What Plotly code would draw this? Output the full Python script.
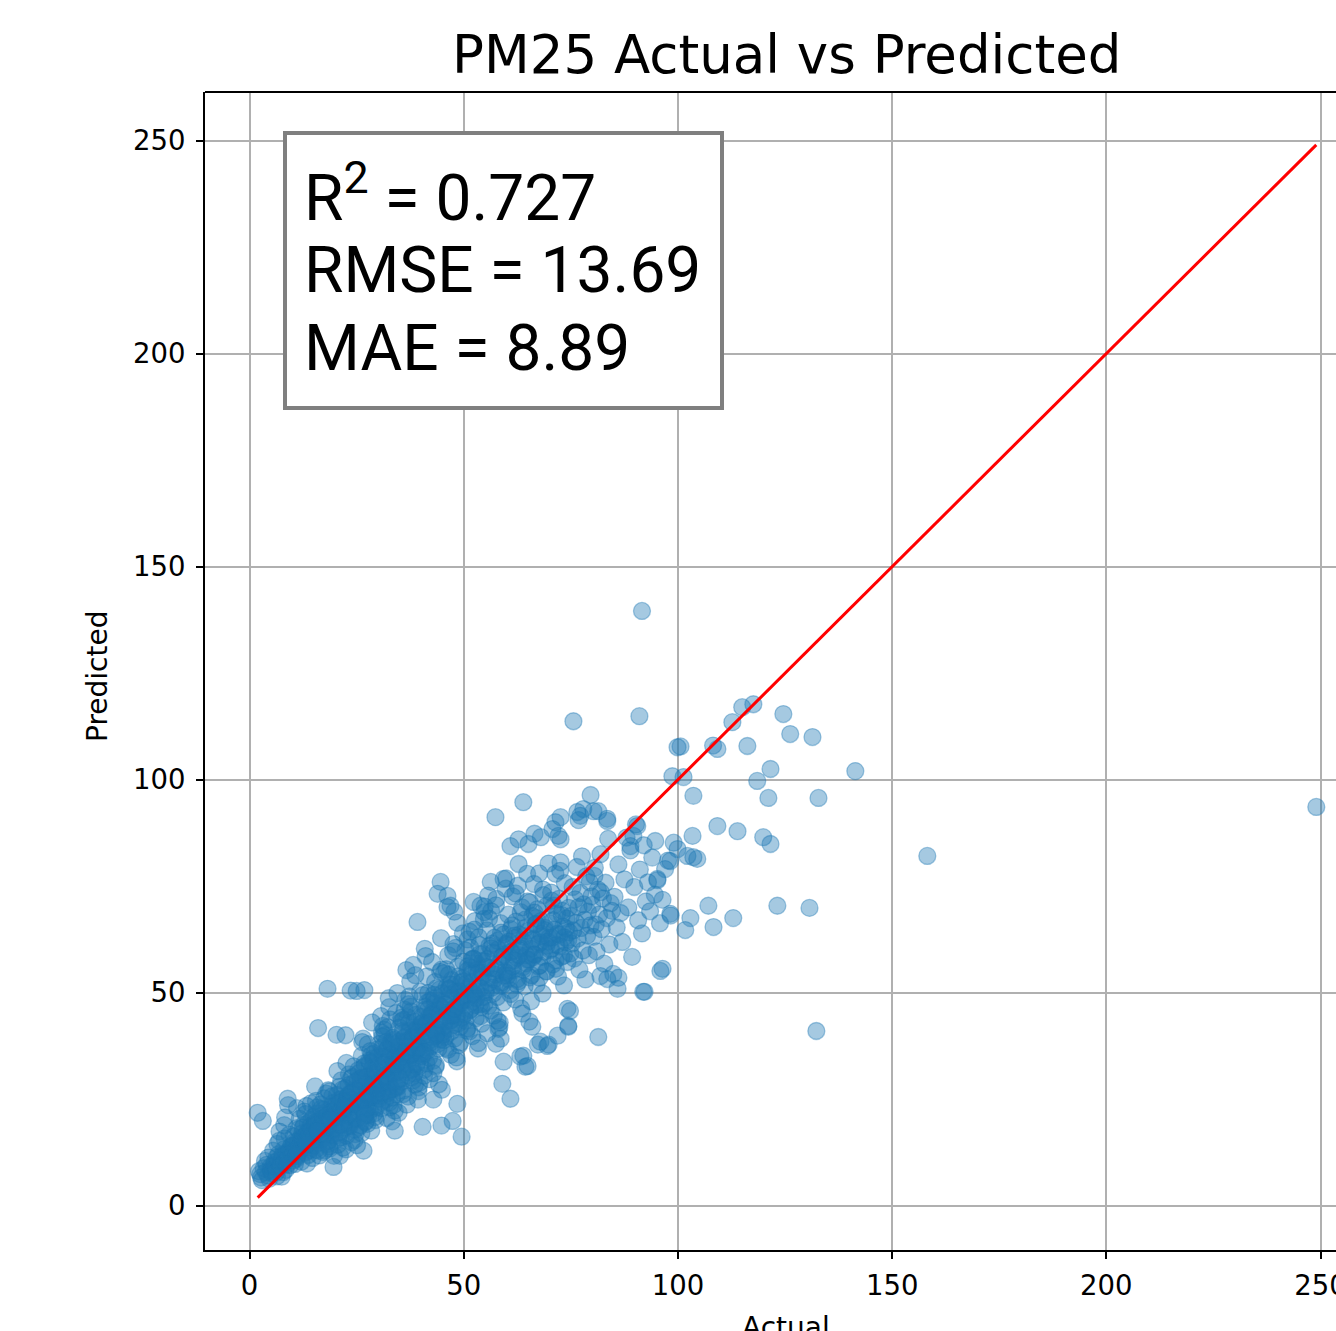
import plotly.graph_objects as go

# ---------------- data (per actual-value bin) ----------------
actual_00_05 = [1.9, 2.5, 3.1, 3.3, 2.7, 4.0, 4.6, 3.8, 4.9, 2.2, 3.6, 4.3, 5.0, 2.9, 4.4]
pred_00_05 = [21.8, 7.4, 19.9, 8.8, 6.6, 9.6, 6.3, 7.9, 8.4, 8.1, 10.5, 7.1, 9.2, 6.0, 11.3]

actual_05_10 = [5.3, 5.8, 6.1, 6.5, 6.8, 7.0, 7.2, 7.5, 7.7, 8.0, 8.2, 8.4, 8.6, 8.9, 9.1,
                9.3, 9.5, 9.8, 5.5, 6.3, 7.4, 8.1, 9.0, 9.6, 6.9, 7.9, 8.7, 5.9, 9.9, 8.3]
pred_05_10 = [7.6, 10.2, 8.9, 14.5, 12.1, 17.4, 9.8, 6.8, 11.5, 13.2, 15.8, 8.4, 10.9, 25.1, 12.6,
              16.7, 9.5, 14.1, 12.9, 11.3, 10.6, 18.9, 23.6, 13.8, 15.2, 7.9, 12.0, 9.1, 11.9, 20.7]

actual_10_15 = [10.1, 10.3, 10.6, 10.8, 11.0, 11.2, 11.5, 11.7, 11.9, 12.1, 12.3, 12.5, 12.8, 13.0, 13.2,
                13.4, 13.6, 13.9, 14.1, 14.3, 14.5, 14.7, 14.9, 10.4, 10.9, 11.4, 11.8, 12.2, 12.7, 13.1,
                13.5, 13.8, 14.2, 14.6, 10.2, 11.1, 12.0, 12.9, 13.7, 14.4, 14.8, 11.6, 12.4, 13.3, 14.0]
pred_10_15 = [12.1, 16.3, 9.8, 14.0, 18.2, 11.6, 13.9, 20.4, 15.1, 10.3, 17.0, 14.6, 22.1, 12.4, 16.8,
              9.9, 19.3, 15.5, 13.1, 24.0, 17.7, 11.2, 20.8, 14.9, 11.0, 17.9, 13.3, 15.6, 19.0, 21.5,
              12.8, 16.2, 18.6, 14.2, 10.6, 22.9, 16.0, 13.7, 11.9, 20.1, 15.0, 12.9, 18.3, 23.4, 17.3]

actual_15_20 = [15.0, 15.2, 15.4, 15.6, 15.8, 16.0, 16.2, 16.4, 16.6, 16.8, 17.0, 17.2, 17.4, 17.6, 17.8,
                18.0, 18.2, 18.4, 18.6, 18.8, 19.0, 19.2, 19.4, 19.6, 19.8, 15.1, 15.5, 15.9, 16.3, 16.7,
                17.1, 17.5, 17.9, 18.3, 18.7, 19.1, 19.5, 19.9, 15.3, 16.1, 16.9, 17.7, 18.5, 19.3, 15.4,
                16.5, 17.3, 18.1, 18.9, 19.7, 15.7, 16.6, 17.6, 18.6, 19.6]
pred_15_20 = [15.4, 18.9, 13.1, 21.6, 17.2, 41.7, 14.8, 20.3, 23.8, 16.1, 19.5, 12.6, 25.2, 17.9, 22.0,
              15.0, 18.4, 27.1, 13.9, 20.9, 16.6, 23.3, 19.0, 9.1, 21.4, 14.1, 24.6, 18.0, 11.8, 22.7,
              15.8, 20.1, 26.3, 17.5, 13.4, 19.8, 24.1, 16.4, 28.0, 12.9, 21.1, 18.7, 15.3, 25.7, 19.6,
              17.0, 22.5, 14.5, 20.6, 11.7, 23.0, 16.9, 13.0, 26.8, 18.2]

actual_20_25 = [20.0, 20.2, 20.4, 20.6, 20.8, 21.0, 21.2, 21.4, 21.6, 21.8, 22.0, 22.2, 22.4, 22.6, 22.8,
                23.0, 23.2, 23.4, 23.6, 23.8, 24.0, 24.2, 24.4, 24.6, 24.8, 20.1, 20.5, 20.9, 21.3, 21.7,
                22.1, 22.5, 22.9, 23.3, 23.7, 24.1, 24.5, 24.9, 20.3, 21.1, 21.9, 22.7, 23.5, 24.3, 20.7,
                21.5, 22.3, 23.1, 23.9, 24.7, 20.0, 21.0, 22.0, 23.0, 24.0, 21.2, 22.4, 23.6, 24.6, 20.6,
                18.2, 23.6, 25.0, 26.8, 22.6]
pred_20_25 = [22.4, 18.1, 26.0, 15.7, 20.8, 24.9, 17.3, 29.4, 21.5, 13.6, 23.7, 19.2, 27.6, 16.4, 25.3,
              21.0, 30.8, 18.6, 23.1, 14.9, 26.7, 20.2, 28.9, 17.8, 24.4, 19.9, 31.6, 22.8, 16.0, 27.3,
              20.5, 13.2, 25.8, 18.9, 29.9, 22.1, 15.4, 26.2, 40.1, 11.7, 21.8, 24.6, 19.4, 32.7, 17.1,
              25.0, 22.9, 28.3, 20.7, 16.8, 23.4, 27.9, 18.3, 21.3, 30.2, 19.0, 40.0, 26.5, 23.9, 14.3,
              50.9, 50.5, 50.4, 50.6, 33.5]

actual_25_30 = [25.0, 25.2, 25.4, 25.6, 25.8, 26.0, 26.2, 26.4, 26.6, 26.8, 27.0, 27.2, 27.4, 27.6, 27.8,
                28.0, 28.2, 28.4, 28.6, 28.8, 29.0, 29.2, 29.4, 29.6, 29.8, 25.1, 25.5, 25.9, 26.3, 26.7,
                27.1, 27.5, 27.9, 28.3, 28.7, 29.1, 29.5, 29.9, 25.3, 26.1, 26.9, 27.7, 28.5, 29.3, 25.7,
                26.5, 27.3, 28.1, 28.9, 29.7, 25.5, 26.5, 27.5, 28.5, 29.5, 25.9, 26.9, 27.9, 28.9, 29.9,
                26.2, 27.2, 28.2, 29.2, 26.6, 27.6, 28.6, 29.6, 27.5, 28.0]
pred_25_30 = [27.1, 20.4, 31.8, 24.6, 18.9, 29.3, 35.2, 22.7, 26.0, 33.4, 19.6, 28.8, 24.1, 37.9, 21.3,
              30.5, 25.7, 17.6, 32.2, 27.9, 23.3, 35.8, 20.1, 29.0, 26.6, 14.2, 31.1, 24.9, 38.4, 22.0,
              28.4, 19.2, 34.0, 25.5, 30.9, 21.7, 27.4, 36.7, 23.8, 17.0, 32.8, 26.3, 29.6, 20.8, 24.3,
              39.2, 28.1, 22.4, 33.9, 25.9, 18.4, 30.1, 26.8, 35.5, 23.0, 29.8, 21.1, 27.0, 34.6, 31.4,
              24.7, 19.9, 36.3, 28.6, 12.9, 26.4, 43.0, 30.7, 22.9, 25.2]

actual_30_35 = [30.0, 30.2, 30.4, 30.6, 30.8, 31.0, 31.2, 31.4, 31.6, 31.8, 32.0, 32.2, 32.4, 32.6, 32.8,
                33.0, 33.2, 33.4, 33.6, 33.8, 34.0, 34.2, 34.4, 34.6, 34.8, 30.1, 30.5, 30.9, 31.3, 31.7,
                32.1, 32.5, 32.9, 33.3, 33.7, 34.1, 34.5, 34.9, 30.3, 31.1, 31.9, 32.7, 33.5, 34.3, 30.7,
                31.5, 32.3, 33.1, 33.9, 34.7, 30.5, 31.5, 32.5, 33.5, 34.5, 30.9, 31.9, 32.9, 33.9, 34.9,
                31.2, 32.2, 33.2, 34.2, 31.6, 32.6, 33.6, 34.6, 31.0, 34.0]
pred_30_35 = [32.4, 25.1, 38.0, 28.7, 22.9, 35.6, 30.2, 41.3, 26.8, 33.9, 20.6, 36.8, 29.5, 24.2, 43.7,
              31.7, 27.3, 39.4, 23.6, 34.7, 30.9, 45.2, 26.1, 37.3, 21.8, 32.9, 28.4, 40.6, 35.0, 24.8,
              29.1, 48.7, 33.2, 19.8, 38.9, 27.6, 31.4, 36.1, 25.7, 42.2, 30.3, 23.1, 35.9, 28.0, 44.5,
              32.0, 26.4, 37.8, 22.3, 34.3, 29.7, 40.0, 27.0, 33.6, 49.9, 24.5, 38.4, 31.0, 17.6, 36.5,
              28.9, 41.9, 25.4, 34.9, 30.6, 46.6, 33.1, 27.8, 39.7, 32.7]

actual_35_40 = [35.0, 35.2, 35.4, 35.6, 35.8, 36.0, 36.2, 36.4, 36.6, 36.8, 37.0, 37.2, 37.4, 37.6, 37.8,
                38.0, 38.2, 38.4, 38.6, 38.8, 39.0, 39.2, 39.4, 39.6, 39.8, 35.1, 35.5, 35.9, 36.3, 36.7,
                37.1, 37.5, 37.9, 38.3, 38.7, 39.1, 39.5, 39.9, 35.3, 36.1, 36.9, 37.7, 38.5, 39.3, 35.7,
                36.5, 37.3, 38.1, 38.9, 39.7, 35.5, 36.5, 37.5, 38.5, 39.5, 35.9, 36.9, 37.9, 38.9, 39.9,
                36.2, 37.2, 38.2, 39.2, 36.6]
pred_35_40 = [37.5, 29.8, 44.1, 33.2, 27.0, 40.6, 35.9, 48.3, 31.4, 38.8, 25.6, 42.9, 34.5, 46.7, 30.1,
              39.7, 56.5, 36.3, 28.4, 44.8, 32.7, 41.5, 26.9, 37.9, 50.2, 34.0, 29.1, 43.6, 38.4, 23.7,
              47.3, 35.2, 31.9, 40.1, 54.1, 36.8, 27.8, 42.2, 33.7, 39.3, 30.6, 45.6, 37.0, 24.9, 41.0,
              34.8, 49.1, 32.3, 38.0, 28.9, 43.3, 36.0, 52.6, 31.0, 39.9, 26.2, 44.2, 35.5, 40.8, 33.0,
              46.0, 37.3, 29.4, 41.8, 55.3]

actual_40_45 = [40.0, 40.2, 40.4, 40.6, 40.8, 41.0, 41.2, 41.4, 41.6, 41.8, 42.0, 42.2, 42.4, 42.6, 42.8,
                43.0, 43.2, 43.4, 43.6, 43.8, 44.0, 44.2, 44.4, 44.6, 44.8, 40.1, 40.5, 40.9, 41.3, 41.7,
                42.1, 42.5, 42.9, 43.3, 43.7, 44.1, 44.5, 44.9, 40.3, 41.1, 41.9, 42.7, 43.5, 44.3, 40.7,
                41.5, 42.3, 43.1, 43.9, 44.7, 40.5, 41.5, 42.5, 43.5, 44.5, 40.4, 42.9, 44.8, 44.6, 43.9]
pred_40_45 = [42.6, 35.1, 49.4, 38.7, 31.9, 46.0, 40.9, 53.8, 36.4, 44.3, 29.7, 48.1, 39.6, 57.2, 34.0,
              45.1, 41.8, 32.6, 51.0, 37.9, 43.7, 28.5, 47.0, 39.0, 55.4, 35.8, 42.1, 60.3, 33.4, 49.9,
              38.2, 44.9, 31.1, 52.5, 40.4, 36.9, 46.8, 27.2, 42.9, 58.6, 34.7, 45.5, 39.8, 50.7, 30.5,
              43.0, 37.4, 48.6, 41.3, 62.8, 35.6, 47.7, 44.0, 33.0, 54.9, 18.5, 24.9, 18.8, 76.0, 73.2]

actual_45_50 = [45.0, 45.2, 45.4, 45.6, 45.8, 46.0, 46.2, 46.4, 46.6, 46.8, 47.0, 47.2, 47.4, 47.6, 47.8,
                48.0, 48.2, 48.4, 48.6, 48.8, 49.0, 49.2, 49.4, 49.6, 49.8, 45.1, 45.5, 45.9, 46.3, 46.7,
                47.1, 47.5, 47.9, 48.3, 48.7, 49.1, 49.5, 49.9, 45.3, 46.1, 46.9, 47.7, 48.5, 49.3, 45.7,
                46.5, 47.3, 48.1, 48.9, 49.7, 47.4, 48.5, 49.5, 46.2, 47.8]
pred_45_50 = [47.8, 40.1, 54.6, 43.2, 37.0, 51.3, 45.9, 58.8, 41.5, 49.6, 35.4, 53.0, 44.7, 61.4, 39.2,
              50.2, 46.8, 33.9, 56.1, 42.8, 48.9, 38.3, 52.4, 44.1, 63.9, 40.7, 47.2, 55.5, 36.6, 50.8,
              43.5, 59.7, 46.1, 34.8, 53.8, 41.9, 49.0, 57.3, 38.9, 45.3, 51.9, 42.4, 66.4, 47.5, 39.6,
              54.2, 44.6, 60.5, 37.7, 48.3, 19.9, 23.9, 16.2, 70.1, 69.0]

actual_50_55 = [50.0, 50.2, 50.4, 50.6, 50.8, 51.0, 51.2, 51.4, 51.6, 51.8, 52.0, 52.2, 52.4, 52.6, 52.8,
                53.0, 53.2, 53.4, 53.6, 53.8, 54.0, 54.2, 54.4, 54.6, 54.8, 50.1, 50.5, 50.9, 51.3, 51.7,
                52.1, 52.5, 52.9, 53.3, 53.7, 54.1, 54.5, 54.9, 50.3, 51.1, 51.9, 52.7, 53.5, 54.3, 50.7,
                51.5, 52.3, 53.1, 53.9, 54.7]
pred_50_55 = [52.7, 45.0, 59.9, 48.4, 41.6, 56.2, 50.8, 64.3, 46.1, 54.5, 39.8, 58.0, 49.5, 66.8, 44.0,
              55.3, 51.7, 38.2, 61.2, 47.3, 53.6, 42.7, 57.4, 49.0, 68.9, 45.5, 52.1, 62.5, 40.9, 55.9,
              48.0, 64.8, 50.3, 36.9, 59.0, 46.6, 53.9, 70.2, 43.4, 51.2, 57.8, 47.1, 63.0, 54.7, 41.2,
              60.6, 49.9, 56.8, 44.5, 67.3]

actual_55_60 = [55.0, 55.2, 55.4, 55.6, 55.8, 56.0, 56.2, 56.4, 56.6, 56.8, 57.0, 57.2, 57.4, 57.6, 57.8,
                58.0, 58.2, 58.4, 58.6, 58.8, 59.0, 59.2, 59.4, 59.6, 59.8, 55.1, 55.5, 55.9, 56.3, 56.7,
                57.1, 57.5, 57.9, 58.3, 58.7, 59.1, 59.5, 59.9, 57.4, 58.1, 58.6, 57.9, 59.0, 56.3, 55.7]
pred_55_60 = [57.3, 50.1, 64.6, 53.5, 46.9, 61.0, 55.8, 69.1, 51.2, 59.4, 44.6, 62.9, 54.2, 72.0, 49.0,
              60.2, 56.7, 43.0, 66.3, 52.4, 58.5, 47.7, 63.7, 54.9, 74.4, 50.6, 57.9, 67.4, 45.8, 61.5,
              53.1, 70.5, 55.3, 41.9, 64.1, 51.8, 59.0, 76.8, 91.2, 41.5, 39.2, 43.4, 28.6, 76.0, 72.8]

actual_60_65 = [60.0, 60.2, 60.4, 60.6, 60.8, 61.0, 61.2, 61.4, 61.6, 61.8, 62.0, 62.2, 62.4, 62.6, 62.8,
                63.0, 63.2, 63.4, 63.6, 63.8, 64.0, 64.2, 64.4, 64.6, 64.8, 60.1, 60.5, 60.9, 61.3, 61.7,
                62.1, 62.5, 62.9, 63.3, 63.7, 64.1, 64.5, 64.9, 63.9, 64.4]
pred_60_65 = [61.2, 54.0, 68.3, 57.1, 50.6, 64.9, 59.5, 72.6, 55.3, 62.8, 48.4, 66.7, 58.2, 75.1, 52.7,
              63.6, 60.4, 46.3, 70.0, 56.0, 61.9, 51.5, 67.2, 58.8, 77.9, 54.6, 62.0, 49.7, 65.8, 57.6,
              73.3, 53.2, 60.0, 68.9, 45.1, 63.1, 56.9, 71.4, 94.7, 32.6]

actual_65_70 = [65.0, 65.2, 65.4, 65.6, 65.8, 66.0, 66.2, 66.4, 66.6, 66.8, 67.0, 67.2, 67.4, 67.6, 67.8,
                68.0, 68.2, 68.4, 68.6, 68.8, 69.0, 69.2, 69.4, 69.6, 69.8, 65.3, 66.1, 66.9, 67.7, 68.5,
                69.3, 65.7, 66.5, 67.3, 68.1]
pred_65_70 = [64.5, 57.8, 71.2, 60.3, 54.1, 68.0, 62.6, 75.5, 58.9, 66.1, 51.9, 69.6, 61.4, 78.0, 56.4,
              66.8, 63.3, 49.8, 72.9, 59.6, 65.2, 55.0, 70.4, 62.0, 80.3, 43.2, 58.3, 67.5, 53.5, 74.2,
              61.0, 48.0, 68.8, 37.8, 63.8]

actual_70_75 = [70.0, 70.2, 70.4, 70.6, 70.8, 71.0, 71.2, 71.4, 71.6, 71.8, 72.0, 72.2, 72.4, 72.6, 72.8,
                73.0, 73.2, 73.4, 73.6, 73.8, 74.0, 74.2, 74.4, 74.6, 74.8, 70.5, 71.5, 72.5, 73.5, 74.5]
pred_70_75 = [66.3, 60.0, 73.5, 62.9, 56.6, 70.4, 64.8, 77.9, 61.2, 68.5, 53.8, 72.0, 63.6, 80.6, 58.4,
              69.2, 65.5, 51.7, 75.7, 61.8, 67.4, 57.2, 42.0, 64.2, 45.7, 71.6, 55.6, 78.6, 63.0, 69.9]

actual_75_80 = [75.0, 75.2, 75.4, 75.6, 75.8, 76.0, 76.2, 76.4, 76.6, 76.8, 77.0, 77.2, 77.4, 77.6, 77.8,
                78.0, 78.2, 78.4, 78.6, 78.8, 79.0, 79.2, 79.4, 79.6, 79.8]
pred_75_80 = [68.0, 61.5, 74.8, 64.6, 58.0, 71.9, 66.4, 79.5, 62.7, 70.1, 55.4, 73.4, 65.2, 82.0, 59.9,
              70.7, 67.1, 53.1, 77.3, 63.4, 69.0, 58.8, 75.9, 65.8, 72.6]

actual_80_85 = [80.0, 80.3, 80.5, 80.8, 81.0, 81.3, 81.6, 81.9, 82.2, 82.5, 82.8, 83.1, 83.4, 83.7, 84.0,
                84.3, 84.6, 84.9, 80.6, 82.0]
pred_80_85 = [70.6, 63.1, 77.4, 66.0, 59.7, 74.2, 68.3, 82.5, 64.9, 72.1, 56.8, 75.8, 67.5, 86.1, 61.3,
              71.0, 69.2, 54.4, 79.3, 73.6]

actual_85_100 = [85.2, 85.7, 86.1, 86.6, 87.0, 87.5, 88.0, 88.4, 88.9, 89.3, 89.8, 90.2, 90.7, 91.1, 91.6,
                 92.0, 92.5, 93.0, 93.5, 94.0, 94.6, 95.2, 95.8, 96.4, 97.0, 97.7, 98.3, 99.0, 86.1, 92.2]
pred_85_100 = [72.5, 65.3, 80.1, 68.7, 61.9, 76.6, 86.4, 70.0, 83.4, 58.4, 74.8, 89.5, 67.0, 78.9, 63.9,
               84.6, 71.4, 75.9, 69.1, 81.7, 73.0, 76.4, 66.3, 71.8, 79.0, 81.0, 68.1, 85.2, 53.5, 50.2]

# extra points in the dense core of the cloud
actual_core_a = [5.2, 5.7, 6.2, 6.7, 7.1, 7.6, 8.1, 8.5, 9.0, 9.4, 9.9, 10.3, 10.8, 11.3, 11.7, 12.2, 12.6,
                 13.1, 13.6, 14.0, 14.5, 15.0, 15.4, 15.9, 16.3, 16.8, 17.3, 17.7, 18.2, 18.6, 19.1, 19.6,
                 20.0, 20.5, 20.9, 21.4, 21.8, 22.3, 22.8, 23.2, 23.7, 24.1, 24.6, 6.4, 8.8, 11.0, 13.4,
                 16.0, 18.9, 22.0]
pred_core_a = [8.1, 9.5, 7.8, 10.6, 9.2, 11.8, 10.0, 12.3, 11.1, 13.0, 12.4, 14.1, 13.0, 15.2, 13.8, 14.9,
               16.0, 15.1, 17.2, 16.4, 18.0, 17.1, 18.9, 17.8, 19.7, 19.0, 20.6, 19.4, 21.2, 20.3, 22.1,
               21.0, 22.8, 21.7, 23.9, 22.5, 24.6, 23.0, 25.4, 24.1, 26.2, 24.8, 27.0, 6.9, 9.7, 11.9,
               14.6, 17.5, 20.1, 23.4]

actual_core_b = [25.3, 25.7, 26.1, 26.5, 26.9, 27.3, 27.7, 28.1, 28.5, 28.9, 29.3, 29.7, 30.1, 30.5, 30.9,
                 31.3, 31.7, 32.1, 32.5, 32.9, 33.3, 33.7, 34.1, 34.5, 34.9, 35.3, 35.7, 36.1, 36.5, 36.9,
                 37.3, 37.7, 38.1, 38.5, 38.9, 39.3, 39.7, 40.1, 40.5, 40.9, 41.3, 41.7, 42.1, 42.5, 42.9,
                 43.3, 43.7, 44.1, 44.5, 44.9, 45.3, 45.7, 46.1, 46.5, 46.9, 47.3, 47.7, 48.1, 48.5, 48.9,
                 49.3, 49.7, 27.0, 31.0, 35.0, 39.0, 43.0, 47.0, 33.0, 41.0]
pred_core_b = [29.5, 23.1, 27.8, 32.4, 24.9, 30.2, 26.0, 33.6, 28.3, 25.7, 31.9, 27.4, 34.8, 29.0, 26.6,
               33.1, 30.5, 36.7, 28.9, 35.3, 31.2, 37.9, 33.0, 29.4, 38.6, 34.9, 31.8, 39.5, 36.2, 33.3,
               41.0, 35.6, 38.8, 43.2, 36.4, 40.7, 37.1, 44.3, 39.8, 36.0, 42.5, 46.1, 38.9, 44.8, 41.4,
               47.6, 40.2, 45.9, 43.6, 49.8, 42.1, 47.3, 44.7, 50.9, 43.5, 48.8, 46.2, 52.0, 44.9, 50.3,
               47.8, 53.4, 21.5, 37.2, 41.8, 33.4, 49.5, 40.8, 38.3, 46.7]

actual_core_c = [50.4, 50.9, 51.4, 51.9, 52.4, 52.9, 53.4, 53.9, 54.4, 54.9, 55.4, 55.9, 56.4, 56.9, 57.4,
                 57.9, 58.4, 58.9, 59.4, 59.9, 60.4, 60.9, 61.4, 61.9, 62.4, 62.9, 63.4, 63.9, 64.4, 64.9,
                 65.4, 65.9, 66.4, 66.9, 67.4, 67.9, 68.4, 68.9, 69.4, 69.9, 70.4, 70.9, 71.4, 71.9, 72.4,
                 72.9, 73.4, 73.9, 74.4, 74.9]
pred_core_c = [49.6, 55.2, 45.8, 52.4, 57.9, 48.7, 54.6, 51.0, 59.1, 47.5, 56.0, 52.3, 60.4, 49.8, 55.7,
               62.2, 51.6, 58.3, 54.0, 61.5, 53.2, 59.6, 56.1, 63.4, 51.9, 58.8, 61.0, 55.4, 65.2, 57.7,
               53.6, 62.3, 59.0, 66.1, 56.2, 61.8, 58.4, 64.7, 55.0, 62.9, 60.3, 67.0, 57.6, 63.8, 60.9,
               68.2, 58.7, 65.1, 62.4, 59.2]

# sparse fringe points around the main cloud
actual_fringe = [39.2, 46.2, 46.9, 52.3, 53.9, 59.3, 60.9, 62.8, 65.1, 62.8, 70.7, 71.4, 72.6, 72.6, 76.5,
                 77.9, 81.4, 83.5, 79.6, 76.8, 72.1, 81.9, 81.4, 74.2, 74.4, 71.9, 69.5, 67.9, 63.9, 64.9,
                 59.3, 60.9, 63.2, 83.5, 85.9, 95.9, 57.5, 55.5, 66.0, 69.8, 66.5, 68.0]
pred_fringe = [66.6, 72.7, 70.4, 71.3, 70.4, 76.7, 84.4, 86.0, 84.9, 80.2, 88.4, 90.0, 91.2, 86.0, 92.4,
               93.1, 92.6, 90.3, 96.4, 90.5, 86.8, 53.9, 39.6, 46.2, 42.2, 39.9, 37.5, 38.5, 35.2, 32.8,
               33.8, 25.1, 35.0, 53.2, 50.9, 55.1, 38.0, 40.5, 42.0, 37.8, 87.3, 86.5]

# isolated high-value points
actual_outliers = [91.6, 75.6, 91.0, 115.0, 117.6, 124.6, 126.2, 131.4, 112.7, 99.9, 100.6, 109.2, 108.2,
                   116.2, 141.4, 121.6, 118.5, 98.7, 101.3, 103.6, 121.1, 132.8, 249.0, 158.2, 109.2,
                   113.9, 119.9, 121.6, 103.4, 99.9, 103.6, 102.2, 104.5, 98.2, 94.7, 90.5, 89.6, 88.9,
                   95.2, 123.2, 130.7, 112.9, 108.3, 107.1, 102.9, 101.7, 98.2, 96.4, 91.9, 132.3, 77.2,
                   80.3, 83.5]
pred_outliers = [139.6, 113.7, 114.9, 117.0, 117.7, 115.4, 110.7, 110.0, 113.5, 107.6, 107.8, 107.2, 108.0,
                 107.9, 102.0, 102.5, 99.7, 100.8, 100.6, 96.2, 95.7, 95.7, 93.6, 82.1, 89.1,
                 87.9, 86.5, 84.9, 86.8, 83.7, 81.8, 82.1, 81.4, 80.9, 85.6, 89.1, 86.8, 84.4,
                 76.7, 70.4, 69.9, 67.5, 65.4, 70.4, 67.5, 64.7, 68.5, 55.6, 50.2, 41.0, 91.5,
                 92.6, 90.8]

diag_ends = [1.9, 249.0]          # reference line y = x from min to max value

x_ticks = [0, 50, 100, 150, 200, 250]
y_ticks = [0, 50, 100, 150, 200, 250]

stats_lines = ["R<sup>2</sup> = 0.727", "RMSE = 13.69", "MAE = 8.89"]

# ---------------- assemble ----------------
bins = [
    (actual_00_05, pred_00_05), (actual_05_10, pred_05_10), (actual_10_15, pred_10_15),
    (actual_15_20, pred_15_20), (actual_20_25, pred_20_25), (actual_25_30, pred_25_30),
    (actual_30_35, pred_30_35), (actual_35_40, pred_35_40), (actual_40_45, pred_40_45),
    (actual_45_50, pred_45_50), (actual_50_55, pred_50_55), (actual_55_60, pred_55_60),
    (actual_60_65, pred_60_65), (actual_65_70, pred_65_70), (actual_70_75, pred_70_75),
    (actual_75_80, pred_75_80), (actual_80_85, pred_80_85), (actual_85_100, pred_85_100),
    (actual_core_a, pred_core_a), (actual_core_b, pred_core_b), (actual_core_c, pred_core_c),
    (actual_fringe, pred_fringe), (actual_outliers, pred_outliers),
]
xs, ys = [], []
for a, p in bins:
    n = min(len(a), len(p))
    xs.extend(a[:n])
    ys.extend(p[:n])

# body margin is removed by the post script, so page pixels == figure pixels
W, H = 1336, 1331
L, R, T, B = 205, 0, 92, 81
pw, ph = W - L - R, H - T - B


def px_x(px):          # page pixel -> paper x
    return (px - L) / pw


def px_y(py):          # page pixel -> paper y
    return (H - B - py) / ph


fig = go.Figure()
fig.add_trace(go.Scatter(
    x=xs, y=ys, mode="markers",
    marker=dict(size=17, color="rgba(31,119,180,0.4)",
                line=dict(color="rgba(31,119,180,0.4)", width=1.3)),
    showlegend=False, hoverinfo="skip",
))
fig.add_trace(go.Scatter(
    x=diag_ends, y=diag_ends, mode="lines",
    line=dict(color="red", width=3), showlegend=False, hoverinfo="skip",
))

axis_common = dict(
    showgrid=True, gridcolor="#b0b0b0", gridwidth=1.8,
    zeroline=False, showline=True, linecolor="black", linewidth=2,
    ticks="outside", ticklen=7, tickwidth=1.6, tickcolor="black",
    tickfont=dict(family="DejaVu Sans", size=27.5, color="black"),
    ticklabeloverflow="allow", automargin=False,
)

fig.update_layout(
    width=W, height=H,
    margin=dict(l=L, r=R, t=T, b=B, pad=0, autoexpand=False),
    paper_bgcolor="white", plot_bgcolor="white",
    xaxis=dict(range=[-10.4, 253.6], tickvals=x_ticks, ticktext=[str(v) for v in x_ticks],
               ticklabelstandoff=3, **axis_common),
    yaxis=dict(range=[-10.4, 261.4], tickvals=y_ticks, ticktext=[str(v) for v in y_ticks],
               ticklabelstandoff=5, **axis_common),
    showlegend=False,
)

# top spine
fig.add_shape(type="line", xref="paper", yref="paper", x0=0, x1=1, y0=1, y1=1,
              line=dict(color="black", width=2), layer="above")

# stats box
fig.add_shape(type="rect", xref="paper", yref="paper",
              x0=px_x(285), x1=px_x(722), y0=px_y(408), y1=px_y(133),
              line=dict(color="#7f7f7f", width=4), fillcolor="white", layer="above")
for line_text, cy in zip(stats_lines, [193, 270, 348]):
    fig.add_annotation(
        xref="paper", yref="paper", x=px_x(302), y=px_y(cy), xanchor="left", yanchor="middle",
        text=line_text, align="left", showarrow=False,
        font=dict(family="Roboto", size=64, color="black"),
    )

# title
fig.add_annotation(
    xref="paper", yref="paper", x=px_x(787), y=px_y(55), xanchor="center", yanchor="middle",
    text="PM25 Actual vs Predicted", showarrow=False,
    font=dict(family="DejaVu Sans", size=53, color="black"),
)
# axis titles
fig.add_annotation(
    xref="paper", yref="paper", x=px_x(97), y=px_y(677), xanchor="center", yanchor="middle",
    text="Predicted", textangle=-90, showarrow=False,
    font=dict(family="DejaVu Sans", size=28, color="black"),
)
fig.add_annotation(
    xref="paper", yref="paper", x=px_x(786), y=px_y(1327), xanchor="center", yanchor="middle",
    text="Actual", showarrow=False,
    font=dict(family="DejaVu Sans", size=28, color="black"),
)

fig.write_html(
    "out.html",
    config={"displayModeBar": False},
    post_script="document.body.style.margin='0px';document.body.style.overflow='hidden';",
)
